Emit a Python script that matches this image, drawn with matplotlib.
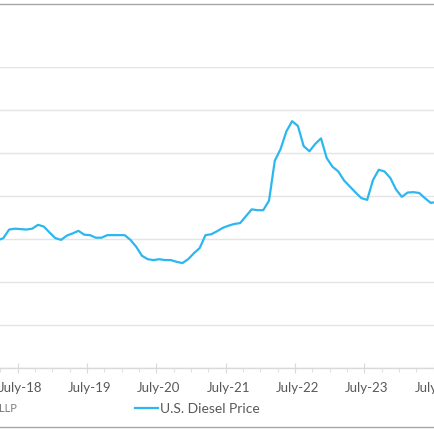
import numpy as np
import matplotlib
matplotlib.use("Agg")
import matplotlib.pyplot as plt
import matplotlib.transforms as mtransforms
from matplotlib.patches import Rectangle

# monthly U.S. diesel price ($/gal), Jan 2018 .. Jul 2024
start_year = 2018
prices = [
    3.05, 3.02, 2.97, 3.02, 3.22, 3.24, 3.23, 3.22, 3.24, 3.33, 3.29, 3.15,  # 2018
    3.02, 2.98, 3.08, 3.13, 3.19, 3.10, 3.09, 3.03, 3.03, 3.09, 3.09, 3.09,  # 2019
    3.09, 2.98, 2.82, 2.61, 2.53, 2.51, 2.53, 2.51, 2.51, 2.47, 2.44, 2.53,  # 2020
    2.67, 2.79, 3.09, 3.11, 3.18, 3.26, 3.31, 3.35, 3.37, 3.53, 3.69, 3.67,  # 2021
    3.67, 3.89, 4.82, 5.09, 5.50, 5.74, 5.63, 5.16, 5.04, 5.21, 5.34, 4.88,  # 2022
    4.68, 4.57, 4.36, 4.22, 4.08, 3.95, 3.91, 4.37, 4.61, 4.57, 4.42, 4.15,  # 2023
    3.98, 4.08, 4.09, 4.07, 3.95, 3.84, 3.86,                                # 2024
]
tick_years = [2018, 2019, 2020, 2021, 2022, 2023, 2024]
tick_labels = ["July-%02d" % (y % 100) for y in tick_years]
series_name = "U.S. Diesel Price"

BLUE = "#2cb7f0"
GRID = "#e4e4e4"
TXT = "#595959"

# mid-month positions as fractional years
t = start_year + (np.arange(len(prices)) + 0.5) / 12.0

W = H = 435
fig = plt.figure(figsize=(4.35, 4.35), dpi=100)

# axes run past the left/right edge, the reference is a crop of a wider chart
px_per_year = 69.3
x_jul22 = 295.0
x0, x1 = 2018.0, 2025.0
left_px = x_jul22 - (2022.5 - x0) * px_per_year
right_px = x_jul22 + (x1 - 2022.5) * px_per_year
bot_px, top_px = 369.0, 68.0
ax = fig.add_axes([left_px / W, (H - bot_px) / H,
                   (right_px - left_px) / W, (bot_px - top_px) / H])

ax.plot(t, prices, color=BLUE, lw=1.6, solid_joinstyle="round")

ax.set_xlim(x0, x1)
ax.set_ylim(0, 7)
ax.set_yticks(np.arange(0, 8, 1))
ax.grid(axis="y", color=GRID, lw=1.0)
ax.set_axisbelow(True)
for s in ["top", "right", "left"]:
    ax.spines[s].set_visible(False)
ax.spines["bottom"].set_color("#d9d9d9")
ax.spines["bottom"].set_linewidth(1.0)
ax.tick_params(axis="y", left=False, labelleft=False)

ax.set_xticks([y + 0.5 for y in tick_years])
ax.set_xticklabels(tick_labels)
ax.set_xticks(np.arange(x0, x1 + 0.01, 0.25), minor=True)
ax.tick_params(axis="x", which="major", direction="inout", length=7,
               color="#d9d9d9", labelcolor=TXT, labelsize=9.5, pad=6)
ax.tick_params(axis="x", which="minor", direction="out", length=3,
               color="#d9d9d9")
# excel centres the labels a couple of pixels right of the tick
shift = mtransforms.ScaledTranslation(2.5 / 100, 0, fig.dpi_scale_trans)
for lab in ax.get_xticklabels():
    lab.set_fontfamily("Lato")
    lab.set_transform(lab.get_transform() + shift)

# legend (drawn by hand to sit where the reference has it)
ly = (H - 409.0) / H
fig.add_artist(plt.Line2D([135 / W, 158 / W], [ly, ly], color=BLUE, lw=1.6))
fig.text(160 / W, ly, series_name, color=TXT, fontsize=10, family="Lato",
         va="center", ha="left")
fig.text(17 / W, ly, "LLP", color="#7f7f7f", fontsize=8, family="Lato",
         va="center", ha="right")

# chart-area border (only top and bottom edges fall inside the crop)
fig.add_artist(Rectangle((-0.05, (H - 428.0) / H), 1.1, (428.0 - 4.5) / H,
                         transform=fig.transFigure, fill=False,
                         edgecolor="#a6a6a6", lw=1.0))

fig.savefig("out.png", dpi=100)
